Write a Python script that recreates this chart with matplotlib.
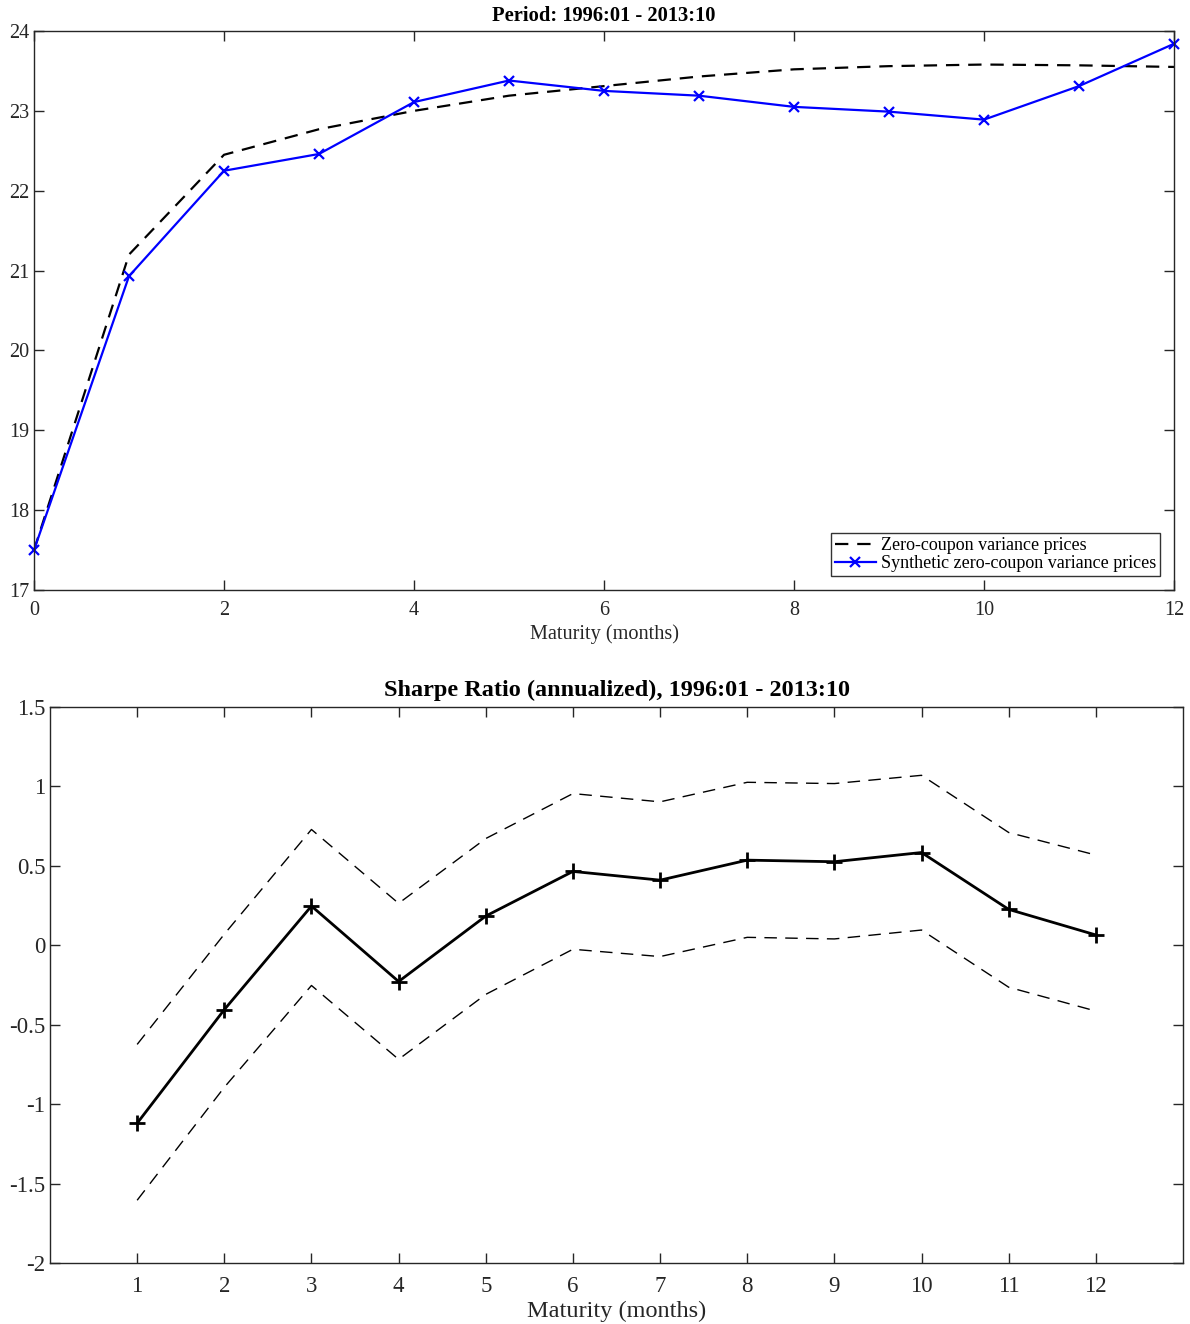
import matplotlib
matplotlib.use("Agg")
import matplotlib.pyplot as plt

plt.rcParams['font.family'] = ['Liberation Serif', 'DejaVu Serif']
plt.rcParams['mathtext.fontset'] = 'stix'

# ---- Data: top panel ----
maturity_top = [0, 1, 2, 3, 4, 5, 6, 7, 8, 9, 10, 11, 12]
zero_coupon = [17.5, 21.2, 22.45, 22.77, 23.0, 23.19, 23.31, 23.43, 23.52, 23.56, 23.58, 23.57, 23.55]
synthetic = [17.5, 20.93, 22.25, 22.46, 23.11, 23.38, 23.25, 23.19, 23.05, 22.99, 22.89, 23.31, 23.84]
top_yticks = [17, 18, 19, 20, 21, 22, 23, 24]
top_xticks = [0, 2, 4, 6, 8, 10, 12]

# ---- Data: bottom panel ----
maturity_bot = [1, 2, 3, 4, 5, 6, 7, 8, 9, 10, 11, 12]
sharpe = [-1.12, -0.405, 0.247, -0.228, 0.184, 0.465, 0.41, 0.536, 0.526, 0.584, 0.226, 0.065]
upper_ci = [-0.624, 0.07, 0.729, 0.264, 0.672, 0.955, 0.903, 1.026, 1.018, 1.07, 0.71, 0.568]
lower_ci = [-1.605, -0.894, -0.253, -0.718, -0.309, -0.025, -0.071, 0.05, 0.04, 0.096, -0.264, -0.414]
bot_yticks = [-2, -1.5, -1, -0.5, 0, 0.5, 1, 1.5]
bot_yticklabels = ['-2', '-1.5', '-1', '-0.5', '0', '0.5', '1', '1.5']

W, H = 1190, 1324
fig = plt.figure(figsize=(W / 100, H / 100), dpi=100)

spine_col = '#262626'

def style(ax, fs):
    for s in ax.spines.values():
        s.set_color(spine_col)
        s.set_linewidth(1.0)
    ax.tick_params(direction='in', top=True, right=True, length=7, width=1.0,
                   colors=spine_col, labelsize=fs, labelcolor=spine_col)

# Top axes
ax1 = fig.add_axes([34 / W, 1 - 590 / H, (1174 - 34) / W, (590 - 31) / H])
ax1.plot(maturity_top, zero_coupon, color='black', linestyle=(0, (6, 4)), linewidth=1.6,
         label='Zero-coupon variance prices')
ax1.plot(maturity_top, synthetic, color='#0000ff', linewidth=1.6, marker='x',
         markersize=7, markeredgewidth=1.6, label='Synthetic zero-coupon variance prices',
         clip_on=False)
ax1.set_xlim(0, 12)
ax1.set_ylim(17, 24)
ax1.set_xticks(top_xticks)
ax1.set_yticks(top_yticks)
style(ax1, 14.5)
ax1.tick_params(axis='x', pad=8)
ax1.set_xlabel('Maturity (months)', fontsize=14.6, color=spine_col, labelpad=3)
ax1.set_title('Period: 1996:01 - 2013:10', fontsize=14.8, fontweight='bold', pad=7)
leg = ax1.legend(loc='lower right', fontsize=13, frameon=True, fancybox=False,
                 edgecolor='black', handlelength=2.3, handletextpad=0.25,
                 borderpad=0.2, labelspacing=0.05, borderaxespad=0.8)
leg.get_frame().set_linewidth(1.0)

# Bottom axes
ax2 = fig.add_axes([50 / W, 1 - 1263 / H, (1183 - 50) / W, (1263 - 707) / H])
ax2.plot(maturity_bot, upper_ci, color='black', linestyle=(0, (9, 6)), linewidth=1.0)
ax2.plot(maturity_bot, lower_ci, color='black', linestyle=(0, (9, 6)), linewidth=1.0)
ax2.plot(maturity_bot, sharpe, color='black', linewidth=2.0, marker='+',
         markersize=11, markeredgewidth=2.0)
ax2.set_xlim(0, 13)
ax2.set_ylim(-2, 1.5)
ax2.set_xticks(maturity_bot)
ax2.set_yticks(bot_yticks)
ax2.set_yticklabels(bot_yticklabels)
style(ax2, 16.5)
ax2.tick_params(axis='x', pad=9)
ax2.set_xlabel('Maturity (months)', fontsize=17.5, color=spine_col, labelpad=3)
ax2.set_title('Sharpe Ratio (annualized), 1996:01 - 2013:10', fontsize=17.5,
              fontweight='bold', pad=8)

fig.savefig('out.png', dpi=100)
